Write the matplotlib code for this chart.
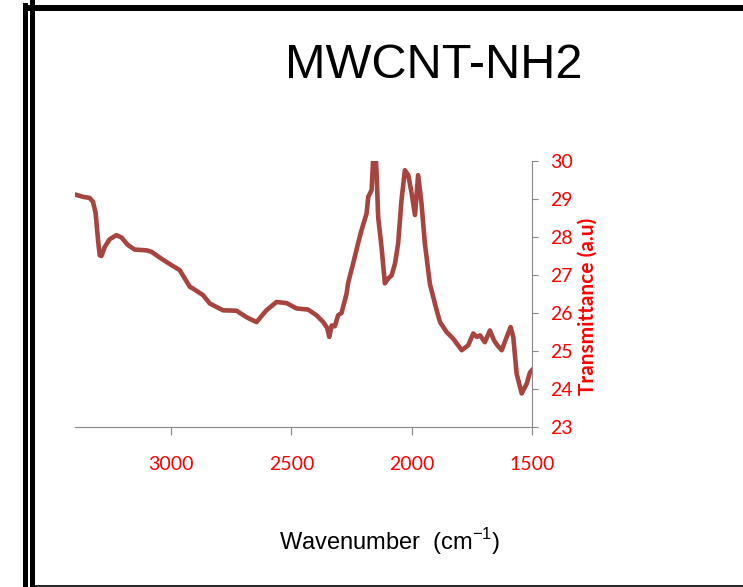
import numpy as np
import matplotlib.pyplot as plt
from matplotlib.lines import Line2D

# FTIR spectrum of MWCNT-NH2
wavenumber = [3393, 3366, 3338, 3324, 3313, 3303, 3296, 3289, 3275, 3255,
              3227, 3206, 3179, 3151, 3102, 3081, 3040, 2998, 2964, 2943,
              2922, 2908, 2867, 2839, 2784, 2728, 2687, 2645, 2604, 2562,
              2520, 2479, 2431, 2396, 2368, 2352, 2343, 2333, 2320, 2306,
              2292, 2271, 2265, 2244, 2223, 2209, 2188, 2181, 2167, 2158,
              2152, 2146, 2140, 2126, 2112, 2098, 2084, 2070, 2057, 2043,
              2029, 2015, 2001, 1987, 1974, 1960, 1946, 1925, 1897, 1883,
              1856, 1828, 1793, 1766, 1745, 1731, 1717, 1697, 1676, 1659,
              1645, 1627, 1606, 1590, 1579, 1565, 1544, 1523, 1510, 1502]
transmittance = [29.10, 29.05, 29.02, 28.92, 28.62, 27.91, 27.51, 27.49, 27.73, 27.93,
                 28.04, 27.98, 27.78, 27.66, 27.64, 27.60, 27.42, 27.25, 27.12, 26.90,
                 26.68, 26.63, 26.46, 26.24, 26.06, 26.05, 25.88, 25.75, 26.06, 26.28,
                 26.25, 26.11, 26.08, 25.93, 25.75, 25.60, 25.36, 25.66, 25.64, 25.93,
                 25.99, 26.50, 26.77, 27.29, 27.83, 28.17, 28.61, 29.05, 29.23, 30.40,
                 30.40, 29.60, 28.52, 27.73, 26.77, 26.90, 26.98, 27.29, 27.82, 28.96,
                 29.75, 29.62, 29.14, 28.57, 29.62, 28.88, 27.82, 26.75, 26.06, 25.75,
                 25.49, 25.31, 25.01, 25.14, 25.45, 25.36, 25.40, 25.22, 25.53, 25.27,
                 25.14, 25.01, 25.36, 25.62, 25.36, 24.39, 23.87, 24.13, 24.42, 24.48]

xticks = [3000, 2500, 2000, 1500]
yticks = [23, 24, 25, 26, 27, 28, 29, 30]

red = '#FF0000'
grey = '#888888'

fig = plt.figure(figsize=(7.43, 5.87), dpi=100)
ax = fig.add_axes([0.1005, 0.2734, 0.6159, 0.4528])

ax.plot(wavenumber, transmittance, color='#A8443F', lw=3.3)
ax.set_xlim(3400, 1500)
ax.set_ylim(23, 30)

ax.spines['left'].set_visible(False)
ax.spines['top'].set_visible(False)
ax.spines['bottom'].set_color(grey)
ax.spines['right'].set_color(grey)

ax.yaxis.tick_right()
ax.set_xticks(xticks)
ax.set_yticks(yticks)
ax.tick_params(axis='x', direction='out', length=6, color=grey, pad=15,
               labelcolor=red, labelsize=14)
ax.tick_params(axis='y', direction='out', length=4.5, color=grey, pad=8,
               labelcolor=red, labelsize=14)
for lab in ax.get_xticklabels() + ax.get_yticklabels():
    lab.set_family('Lato')

ax.set_ylabel('Transmittance (a.u)', color=red, fontsize=15,
              fontweight='bold', family='Lato')
ax.yaxis.set_label_position('right')
ax.yaxis.set_label_coords(1.10, 0.453)

fig.text(0.584, 0.889, 'MWCNT-NH2', fontsize=35, family='Liberation Sans',
         ha='center', va='center')
fig.text(0.525, 0.077, 'Wavenumber  (cm$^{\\mathregular{-1}}$)', fontsize=17,
         family='Liberation Sans', ha='center', va='center')

# page border lines around the chart
W, H = 743.0, 587.0
def px_line(x0, y0, x1, y1, lw):
    fig.add_artist(Line2D([x0 / W, x1 / W], [1 - y0 / H, 1 - y1 / H],
                          color='black', lw=lw, transform=fig.transFigure))

px_line(25.3, 5, 25.3, 587, 3.6)
px_line(31.8, 0, 31.8, 587, 3.6)
px_line(29, 8, 743, 8, 4.3)
px_line(34, 585.7, 743, 585.7, 1.2)

fig.savefig('out.png', dpi=100)
